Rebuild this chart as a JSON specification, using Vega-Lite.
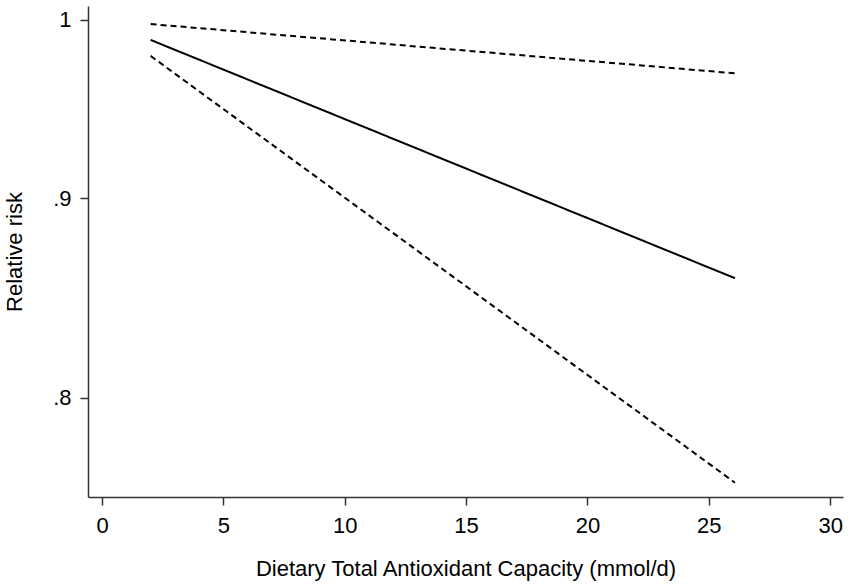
{
  "$schema": "https://vega.github.io/schema/vega-lite/v6.json",
  "autosize": "none",
  "width": 755,
  "height": 491,
  "padding": {"left": 88, "top": 6, "right": 7, "bottom": 90},
  "background": "white",
  "config": {
    "view": {"stroke": null},
    "font": "Liberation Sans",
    "axis": {
      "grid": false,
      "domainColor": "#333333",
      "domainWidth": 1.5,
      "tickColor": "#333333",
      "tickWidth": 1.5,
      "tickSize": 8,
      "labelFont": "Liberation Sans",
      "labelFontSize": 22,
      "labelColor": "#000000",
      "titleFont": "Liberation Sans",
      "titleFontSize": 22,
      "titleFontWeight": "normal",
      "titleColor": "#000000"
    }
  },
  "data": {
    "values": [
      {"tac": 2.0, "rr": 0.9883, "series": "Estimate"},
      {"tac": 26.08, "rr": 0.8585, "series": "Estimate"},
      {"tac": 2.0, "rr": 0.9976, "series": "Upper"},
      {"tac": 26.08, "rr": 0.9690, "series": "Upper"},
      {"tac": 2.0, "rr": 0.9790, "series": "Lower"},
      {"tac": 26.08, "rr": 0.7608, "series": "Lower"}
    ]
  },
  "mark": {"type": "line", "color": "#000000", "strokeWidth": 2, "clip": true},
  "encoding": {
    "x": {
      "field": "tac",
      "type": "quantitative",
      "title": "Dietary Total Antioxidant Capacity (mmol/d)",
      "scale": {"domain": [-0.58, 30.53], "nice": false, "zero": false},
      "axis": {"values": [0, 5, 10, 15, 20, 25, 30], "labelPadding": 10, "titlePadding": 22}
    },
    "y": {
      "field": "rr",
      "type": "quantitative",
      "title": "Relative risk",
      "scale": {"type": "log", "domain": [0.7544, 1.0083], "nice": false, "zero": false},
      "axis": {
        "values": [0.8, 0.9, 1],
        "labelExpr": "datum.value == 1 ? '1' : replace(format(datum.value, '.1f'), '0.', '.')",
        "labelAngle": 0,
        "labelPadding": 9,
        "titlePadding": 26
      }
    },
    "detail": {"field": "series"},
    "strokeDash": {
      "field": "series",
      "type": "nominal",
      "scale": {"domain": ["Estimate", "Lower", "Upper"], "range": [[1, 0], [6, 4], [6, 4]]},
      "legend": null
    }
  }
}
